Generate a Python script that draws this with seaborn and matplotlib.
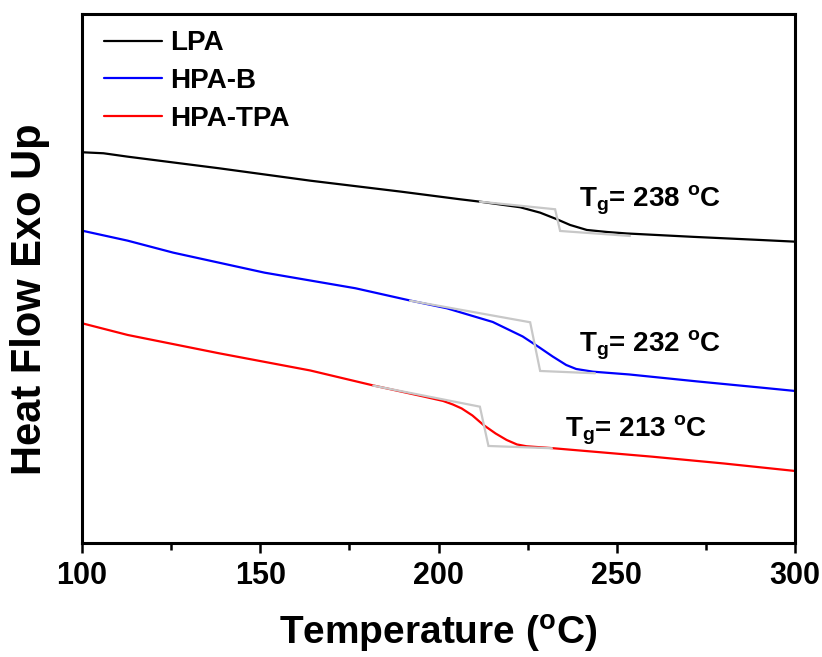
import matplotlib
matplotlib.use("Agg")
import matplotlib.pyplot as plt
import numpy as np
import pandas as pd
import seaborn as sns
from matplotlib.ticker import MultipleLocator

# DSC heating curves (heat flow, arbitrary units, exo up)
lpa_temp = [100.0, 106.0, 112.8, 138.4, 164.0, 189.5, 206.0, 211.6, 222.9, 228.5,
            233.2, 236.9, 241.6, 247.2, 252.8, 271.5, 290.2, 300.0]
lpa_flow = [3.912, 3.902, 3.868, 3.752, 3.628, 3.518, 3.442, 3.418, 3.362, 3.308,
            3.242, 3.185, 3.135, 3.115, 3.100, 3.066, 3.035, 3.018]

hpab_temp = [100.0, 112.8, 125.6, 151.2, 176.7, 192.2, 202.3, 215.2, 223.6, 228.3,
             232.0, 235.8, 238.6, 243.3, 253.5, 272.7, 290.1, 300.0]
hpab_flow = [3.128, 3.028, 2.908, 2.708, 2.552, 2.428, 2.352, 2.215, 2.070, 1.960,
             1.870, 1.785, 1.745, 1.718, 1.690, 1.620, 1.560, 1.525]

hpatpa_temp = [100.0, 112.8, 138.4, 164.0, 181.7, 196.0, 201.3, 204.0, 206.5, 209.5,
               212.6, 216.0, 219.1, 222.0, 224.7, 231.3, 259.9, 280.0, 300.0]
hpatpa_flow = [2.202, 2.085, 1.902, 1.730, 1.580, 1.468, 1.425, 1.390, 1.350, 1.280,
               1.185, 1.100, 1.035, 0.990, 0.972, 0.955, 0.868, 0.800, 0.725]

# Tangent constructions used to locate Tg
lpa_tan_temp = [211.6, 232.7, 234.1, 253.7]
lpa_tan_flow = [3.418, 3.342, 3.125, 3.075]
hpab_tan_temp = [192.0, 225.7, 228.5, 243.9]
hpab_tan_flow = [2.428, 2.212, 1.725, 1.702]
hpatpa_tan_temp = [181.7, 211.6, 214.0, 231.8]
hpatpa_tan_flow = [1.578, 1.368, 0.975, 0.952]

samples = ["LPA", "HPA-B", "HPA-TPA"]
colors = ["#000000", "#0000ff", "#ff0000"]
tg_values = [238, 232, 213]
tg_label_temp = [239.4, 239.4, 235.5]
tg_label_flow = [3.365, 1.92, 1.065]

sns.set_style("ticks")
plt.rcParams["font.family"] = ["Liberation Sans", "DejaVu Sans"]
plt.rcParams["font.weight"] = "bold"
plt.rcParams["text.color"] = "black"
plt.rcParams["axes.labelcolor"] = "black"
plt.rcParams["xtick.color"] = "black"
plt.rcParams["ytick.color"] = "black"
plt.rcParams["mathtext.fontset"] = "custom"
plt.rcParams["mathtext.rm"] = "Liberation Sans:bold"
plt.rcParams["mathtext.it"] = "Liberation Sans:bold"
plt.rcParams["mathtext.bf"] = "Liberation Sans:bold"

df = pd.concat([
    pd.DataFrame({"Temperature": lpa_temp, "Heat flow": lpa_flow, "Sample": "LPA"}),
    pd.DataFrame({"Temperature": hpab_temp, "Heat flow": hpab_flow, "Sample": "HPA-B"}),
    pd.DataFrame({"Temperature": hpatpa_temp, "Heat flow": hpatpa_flow, "Sample": "HPA-TPA"}),
], ignore_index=True)

fig = plt.figure(figsize=(8.22, 6.57), dpi=100)
ax = fig.add_axes([0.0998, 0.1728, 0.8674, 0.8052])

sns.lineplot(data=df, x="Temperature", y="Heat flow", hue="Sample",
             hue_order=samples, palette=dict(zip(samples, colors)),
             estimator=None, sort=False, linewidth=1.6, ax=ax)

tangents = [(lpa_tan_temp, lpa_tan_flow), (hpab_tan_temp, hpab_tan_flow),
            (hpatpa_tan_temp, hpatpa_tan_flow)]
for tt, tf in tangents:
    ax.plot(tt, tf, color="#c8c8c8", linewidth=1.6, zorder=3,
            solid_joinstyle="miter")

for tg, tx, ty in zip(tg_values, tg_label_temp, tg_label_flow):
    ax.text(tx, ty, r"T$_{\mathrm{g}}$= %d $^{\mathrm{o}}$C" % tg,
            fontsize=20, fontweight="bold", color="black",
            ha="left", va="baseline")

ax.set_xlim(100, 300)
ax.set_ylim(0, 5.29)
ax.xaxis.set_major_locator(MultipleLocator(50))
ax.xaxis.set_minor_locator(MultipleLocator(25))
ax.set_yticks([])
ax.tick_params(axis="x", which="major", length=7.5, width=1.8, direction="out",
               labelsize=22, pad=5, colors="black")
ax.tick_params(axis="x", which="minor", length=5, width=1.8, direction="out",
               colors="black")
for lab in ax.get_xticklabels():
    lab.set_fontweight("bold")

for sp in ax.spines.values():
    sp.set_visible(True)
    sp.set_linewidth(2.2)
    sp.set_color("black")

ax.set_xlabel(r"Temperature ($^{\mathrm{o}}$C)", fontsize=28,
              fontweight="bold", labelpad=16, color="black")
ax.set_ylabel("Heat Flow Exo Up", fontsize=30, fontweight="bold", color="black")
ax.yaxis.set_label_coords(-0.045, 0.462)

handles, labels = ax.get_legend_handles_labels()
leg = ax.legend(handles, labels, loc="upper left", bbox_to_anchor=(0.031, 0.97),
                frameon=False, prop={"weight": "bold", "size": 20},
                handlelength=2.09, handletextpad=0.3, labelspacing=0.42,
                borderpad=0, borderaxespad=0)
for line in leg.get_lines():
    line.set_linewidth(1.6)
for txt in leg.get_texts():
    txt.set_color("black")

fig.savefig("out.png", dpi=100)
